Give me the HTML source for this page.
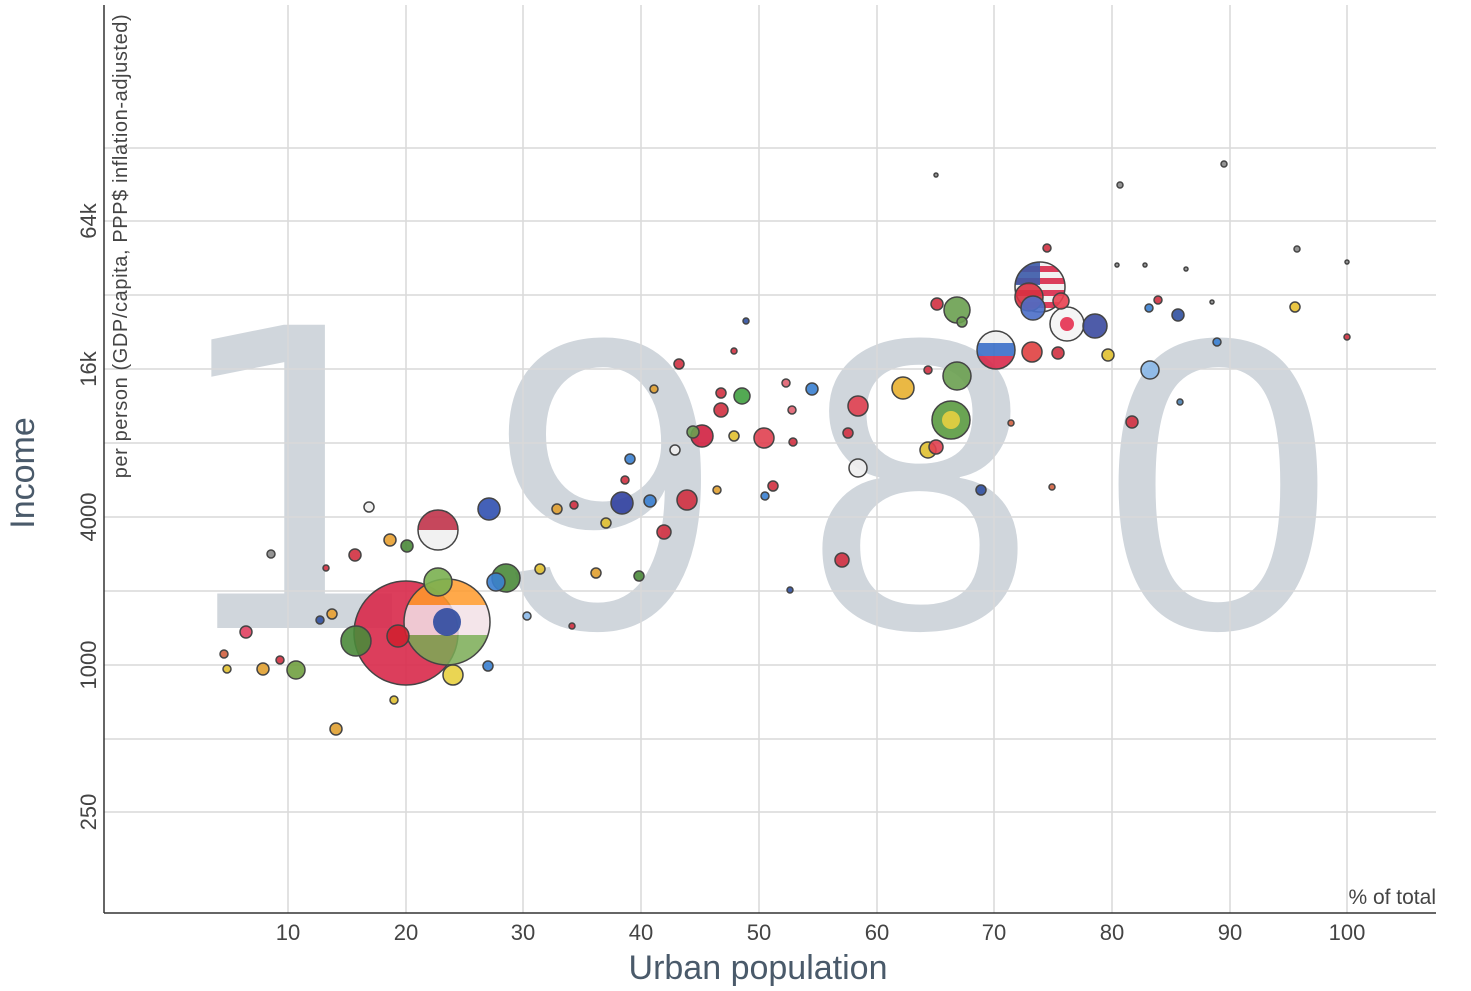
<!DOCTYPE html>
<html><head><meta charset="utf-8"><style>
html,body{margin:0;padding:0;background:#fff;}
svg{display:block;font-family:"Liberation Sans",sans-serif;}
</style></head><body>
<svg width="1471" height="991" viewBox="0 0 1471 991" xmlns="http://www.w3.org/2000/svg">
<g fill="#d0d6dc" font-size="416" text-anchor="middle">
<text x="298" y="628" font-family="DejaVu Sans, sans-serif">1</text><text x="605" y="628">9</text><text x="920" y="628">8</text><text x="1218" y="628">0</text>
</g>
<g stroke="#d9d9d9" stroke-width="1.5">
<line x1="288" y1="5" x2="288" y2="913"/><line x1="406" y1="5" x2="406" y2="913"/><line x1="523" y1="5" x2="523" y2="913"/><line x1="641" y1="5" x2="641" y2="913"/><line x1="759" y1="5" x2="759" y2="913"/><line x1="877" y1="5" x2="877" y2="913"/><line x1="994" y1="5" x2="994" y2="913"/><line x1="1112" y1="5" x2="1112" y2="913"/><line x1="1230" y1="5" x2="1230" y2="913"/><line x1="1347" y1="5" x2="1347" y2="913"/>
<line x1="104" y1="148" x2="1436" y2="148"/><line x1="104" y1="221" x2="1436" y2="221"/><line x1="104" y1="295" x2="1436" y2="295"/><line x1="104" y1="369" x2="1436" y2="369"/><line x1="104" y1="443" x2="1436" y2="443"/><line x1="104" y1="517" x2="1436" y2="517"/><line x1="104" y1="591" x2="1436" y2="591"/><line x1="104" y1="665" x2="1436" y2="665"/><line x1="104" y1="739" x2="1436" y2="739"/><line x1="104" y1="812" x2="1436" y2="812"/>
</g>
<line x1="104" y1="5" x2="104" y2="913" stroke="#333" stroke-width="1.5"/>
<line x1="104" y1="913" x2="1436" y2="913" stroke="#333" stroke-width="1.5"/>
<defs>
<clipPath id="ci"><circle cx="447" cy="622" r="43"/></clipPath>
<clipPath id="cu"><circle cx="1040" cy="287" r="25"/></clipPath>
<clipPath id="cid"><circle cx="438" cy="530" r="20"/></clipPath>
<clipPath id="cr"><circle cx="996" cy="350" r="19"/></clipPath>
</defs>
<g stroke="#444" stroke-width="1.5" fill-opacity="0.9">
<circle cx="406" cy="633" r="52" fill="#d8294a"/>
<g clip-path="url(#ci)" fill-opacity="0.85"><rect x="400" y="575" width="100" height="30" fill="#ff9a2a" stroke="none"/><rect x="400" y="605" width="100" height="30" fill="#f2e0e6" stroke="none"/><rect x="400" y="635" width="100" height="35" fill="#7aac55" stroke="none"/></g>
<circle cx="447" cy="622" r="43" fill="none"/>
<circle cx="447" cy="622" r="14" fill="#2d4aa0" stroke="none"/>
<g clip-path="url(#cu)"><rect x="1010" y="260" width="60" height="60" fill="#f0f0f0" stroke="none"/><rect x="1010" y="266" width="60" height="6" fill="#d8294a" stroke="none"/><rect x="1010" y="278" width="60" height="6" fill="#d8294a" stroke="none"/><rect x="1010" y="290" width="60" height="6" fill="#d8294a" stroke="none"/><rect x="1010" y="302" width="60" height="6" fill="#d8294a" stroke="none"/><rect x="1010" y="260" width="30" height="25" fill="#3b5aa8" stroke="none"/></g>
<circle cx="1040" cy="287" r="25" fill="none"/>
<g clip-path="url(#cid)"><rect x="415" y="505" width="50" height="25" fill="#c0334a" stroke="none"/><rect x="415" y="530" width="50" height="25" fill="#f0f0f0" stroke="none"/></g>
<circle cx="438" cy="530" r="20" fill="none"/>
<g clip-path="url(#cr)"><rect x="975" y="330" width="45" height="13" fill="#f0f0f0" stroke="none"/><rect x="975" y="343" width="45" height="13" fill="#3a6ec8" stroke="none"/><rect x="975" y="356" width="45" height="15" fill="#d8294a" stroke="none"/></g>
<circle cx="996" cy="350" r="19" fill="none"/>
<circle cx="1067" cy="324" r="17" fill="#f4f4f4"/><circle cx="1067" cy="324" r="7" fill="#e63050" stroke="none"/>
<circle cx="1029" cy="297" r="14" fill="#d83040"/>
<circle cx="1033" cy="308" r="12" fill="#4a6ec8"/>
<circle cx="1061" cy="301" r="8" fill="#e84050"/>
<circle cx="1095" cy="326" r="12" fill="#3b4aa0"/>
<circle cx="951" cy="420" r="19" fill="#5a9a40"/><circle cx="951" cy="420" r="9" fill="#e8d040" stroke="none"/>
<circle cx="957" cy="376" r="14" fill="#6aa050"/>
<circle cx="957" cy="310" r="13" fill="#6aa050"/>
<circle cx="1032" cy="352" r="10" fill="#e04040"/>
<circle cx="1150" cy="370" r="9" fill="#8ab8e8"/>
<circle cx="903" cy="388" r="11" fill="#e8b030"/>
<circle cx="858" cy="406" r="10" fill="#e04050"/>
<circle cx="858" cy="468" r="9" fill="#eeeeee"/>
<circle cx="438" cy="582" r="14" fill="#7ab050"/>
<circle cx="356" cy="641" r="15" fill="#4a8a3a"/>
<circle cx="506" cy="578" r="14" fill="#4a8a3a"/>
<circle cx="496" cy="582" r="9" fill="#3a80d0"/>
<circle cx="398" cy="636" r="11" fill="#d02030"/>
<circle cx="453" cy="675" r="10" fill="#e8d040"/>
<circle cx="296" cy="670" r="9" fill="#70a040"/>
<circle cx="489" cy="509" r="11" fill="#3050b0"/>
<circle cx="622" cy="503" r="11" fill="#3040a0"/>
<circle cx="687" cy="500" r="10" fill="#d03040"/>
<circle cx="702" cy="436" r="11" fill="#d02040"/>
<circle cx="764" cy="438" r="10" fill="#e04050"/>
<circle cx="742" cy="396" r="8" fill="#40a040"/>
<circle cx="928" cy="450" r="8" fill="#e0c030"/>
<circle cx="936" cy="447" r="7" fill="#e04050"/>
<circle cx="1132" cy="422" r="6" fill="#d03040"/>
<circle cx="1108" cy="355" r="6" fill="#e0c030"/>
<circle cx="1058" cy="353" r="6" fill="#d03040"/>
<circle cx="1178" cy="315" r="6" fill="#3050a0"/>
<circle cx="1295" cy="307" r="5" fill="#e8c030"/>
<circle cx="1047" cy="248" r="4" fill="#d03040"/>
<circle cx="937" cy="304" r="6" fill="#d03040"/>
<circle cx="962" cy="322" r="5" fill="#6aa050"/>
<circle cx="664" cy="532" r="7" fill="#d03040"/>
<circle cx="721" cy="410" r="7" fill="#d03040"/>
<circle cx="693" cy="432" r="6" fill="#6aa050"/>
<circle cx="721" cy="393" r="5" fill="#d03040"/>
<circle cx="812" cy="389" r="6" fill="#3a80d0"/>
<circle cx="842" cy="560" r="7" fill="#d03040"/>
<circle cx="848" cy="433" r="5" fill="#d03040"/>
<circle cx="981" cy="490" r="5" fill="#3050a0"/>
<circle cx="679" cy="364" r="5" fill="#d03040"/>
<circle cx="390" cy="540" r="6" fill="#e8a030"/>
<circle cx="407" cy="546" r="6" fill="#4a8a3a"/>
<circle cx="355" cy="555" r="6" fill="#d03040"/>
<circle cx="369" cy="507" r="5" fill="#eeeeee"/>
<circle cx="246" cy="632" r="6" fill="#e04060"/>
<circle cx="263" cy="669" r="6" fill="#e0a030"/>
<circle cx="280" cy="660" r="4" fill="#d03040"/>
<circle cx="227" cy="669" r="4" fill="#e0c030"/>
<circle cx="224" cy="654" r="4" fill="#d06040"/>
<circle cx="336" cy="729" r="6" fill="#e0a030"/>
<circle cx="394" cy="700" r="4" fill="#e0c030"/>
<circle cx="332" cy="614" r="5" fill="#e8a030"/>
<circle cx="320" cy="620" r="4" fill="#3050a0"/>
<circle cx="488" cy="666" r="5" fill="#3a80d0"/>
<circle cx="606" cy="523" r="5" fill="#e0c030"/>
<circle cx="650" cy="501" r="6" fill="#3a80d0"/>
<circle cx="574" cy="505" r="4" fill="#d03040"/>
<circle cx="596" cy="573" r="5" fill="#e0a030"/>
<circle cx="540" cy="569" r="5" fill="#e0c030"/>
<circle cx="639" cy="576" r="5" fill="#4a8a3a"/>
<circle cx="557" cy="509" r="5" fill="#e0a030"/>
<circle cx="630" cy="459" r="5" fill="#3a80d0"/>
<circle cx="675" cy="450" r="5" fill="#eeeeee"/>
<circle cx="734" cy="436" r="5" fill="#e0c030"/>
<circle cx="717" cy="490" r="4" fill="#e0a030"/>
<circle cx="773" cy="486" r="5" fill="#d03040"/>
<circle cx="793" cy="442" r="4" fill="#d03040"/>
<circle cx="786" cy="383" r="4" fill="#e06070"/>
<circle cx="792" cy="410" r="4" fill="#e06070"/>
<circle cx="928" cy="370" r="4" fill="#d03040"/>
<circle cx="1149" cy="308" r="4" fill="#3a80d0"/>
<circle cx="1158" cy="300" r="4" fill="#d03040"/>
<circle cx="1217" cy="342" r="4" fill="#3a80d0"/>
<circle cx="1347" cy="337" r="3" fill="#d03040"/>
<circle cx="1297" cy="249" r="3" fill="#888"/>
<circle cx="1120" cy="185" r="3" fill="#888"/>
<circle cx="1224" cy="164" r="3" fill="#888"/>
<circle cx="1180" cy="402" r="3" fill="#4a80b0"/>
<circle cx="1052" cy="487" r="3" fill="#d06040"/>
<circle cx="1011" cy="423" r="3" fill="#d06040"/>
<circle cx="790" cy="590" r="3" fill="#3050a0"/>
<circle cx="572" cy="626" r="3" fill="#d03040"/>
<circle cx="527" cy="616" r="4" fill="#8ab8e8"/>
<circle cx="271" cy="554" r="4" fill="#888"/>
<circle cx="746" cy="321" r="3" fill="#3050a0"/>
<circle cx="734" cy="351" r="3" fill="#d03040"/>
<circle cx="654" cy="389" r="4" fill="#e0a030"/>
<circle cx="625" cy="480" r="4" fill="#d03040"/>
<circle cx="765" cy="496" r="4" fill="#3a80d0"/>
<circle cx="326" cy="568" r="3" fill="#d03040"/>
<circle cx="1347" cy="262" r="2" fill="#888"/>
<circle cx="1117" cy="265" r="2" fill="#888"/>
<circle cx="1145" cy="265" r="2" fill="#888"/>
<circle cx="1186" cy="269" r="2" fill="#888"/>
<circle cx="1212" cy="302" r="2" fill="#888"/>
<circle cx="936" cy="175" r="2" fill="#888"/>
</g>
<g fill="#444" font-size="22" text-anchor="middle">
<text x="288" y="940">10</text><text x="406" y="940">20</text><text x="523" y="940">30</text><text x="641" y="940">40</text><text x="759" y="940">50</text><text x="877" y="940">60</text><text x="994" y="940">70</text><text x="1112" y="940">80</text><text x="1230" y="940">90</text><text x="1347" y="940">100</text>
</g>
<g fill="#444" font-size="22" text-anchor="middle">
<text transform="translate(96,221) rotate(-90)">64k</text>
<text transform="translate(96,369) rotate(-90)">16k</text>
<text transform="translate(96,517) rotate(-90)">4000</text>
<text transform="translate(96,665) rotate(-90)">1000</text>
<text transform="translate(96,812) rotate(-90)">250</text>
</g>
<text x="1436" y="904" fill="#444" font-size="21" text-anchor="end">% of total</text>
<text x="758" y="979" fill="#4a5a6a" font-size="34" text-anchor="middle">Urban population</text>
<text transform="translate(34,473) rotate(-90)" fill="#4a5a6a" font-size="34" text-anchor="middle">Income</text>
<text transform="translate(127,246) rotate(-90)" fill="#444" font-size="20" letter-spacing="0.6" text-anchor="middle">per person (GDP/capita, PPP$ inflation-adjusted)</text>
</svg>
</body></html>
